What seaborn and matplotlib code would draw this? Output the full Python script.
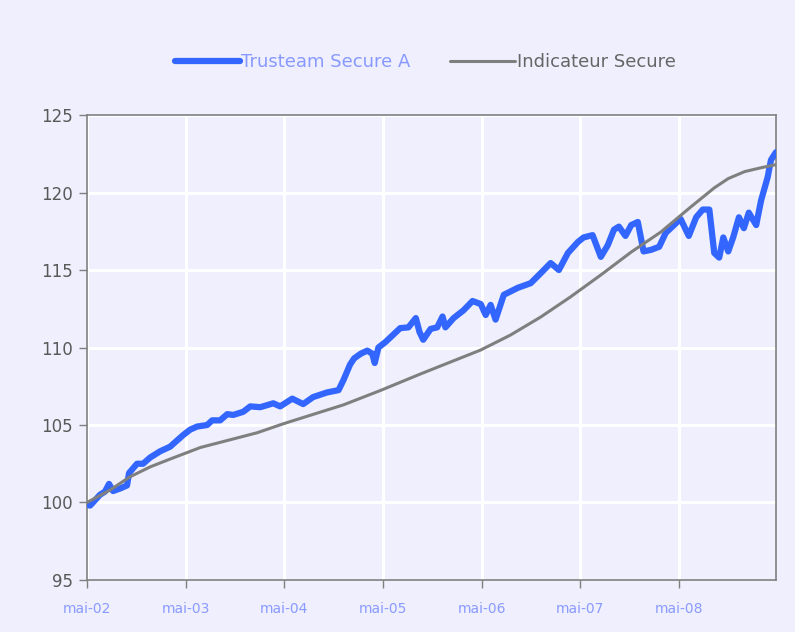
import pandas as pd
import numpy as np
import matplotlib
matplotlib.use("Agg")
import matplotlib.pyplot as plt
import seaborn as sns

# months elapsed since mai-02
fund_months = [0.0, 0.37, 0.73, 1.58, 2.19, 2.68, 3.17, 4.02, 4.87, 5.12,
               5.6, 6.09, 6.82, 7.68, 8.89, 10.11, 11.7, 12.55, 13.4, 14.62,
               15.23, 16.2, 17.06, 17.79, 19.0, 19.86, 21.08, 22.66, 23.5, 24.97,
               26.3, 27.5, 29.2, 30.6, 31.2, 32.0, 32.5, 33.3, 34.1, 34.7,
               35.0, 35.45, 36.3, 37.2, 38.1, 39.1, 40.0, 40.45, 40.9, 41.8,
               42.6, 43.25, 43.6, 44.6, 45.8, 46.9, 47.9, 48.5, 49.1, 49.7,
               50.7, 52.4, 53.97, 55.2, 56.4, 57.4, 58.5, 59.7, 60.4, 61.5,
               62.5, 63.35, 64.1, 64.7, 65.5, 66.2, 67.0, 67.7, 68.6, 69.6,
               70.4, 71.4, 72.2, 73.2, 74.1, 74.9, 75.7, 76.3, 76.9, 77.4,
               78.0, 78.6, 79.3, 79.9, 80.5, 81.4, 82.0, 82.8, 83.2, 83.8]
fund_values = [99.85, 99.8, 100.0, 100.5, 100.7, 101.2, 100.74, 100.9, 101.1, 101.9,
               102.2, 102.5, 102.5, 102.9, 103.3, 103.6, 104.35, 104.7, 104.9, 105.0,
               105.3, 105.3, 105.7, 105.65, 105.85, 106.2, 106.15, 106.4, 106.2, 106.7,
               106.35, 106.8, 107.1, 107.25, 107.9, 108.9, 109.3, 109.6, 109.8, 109.6,
               109.0, 110.0, 110.35, 110.8, 111.25, 111.3, 111.9, 111.0, 110.5, 111.2,
               111.3, 112.0, 111.3, 111.9, 112.4, 113.0, 112.8, 112.1, 112.75, 111.8,
               113.4, 113.85, 114.15, 114.8, 115.45, 115.0, 116.1, 116.8, 117.1, 117.25,
               115.85, 116.6, 117.6, 117.8, 117.2, 117.9, 118.1, 116.2, 116.3, 116.5,
               117.4, 117.9, 118.3, 117.2, 118.4, 118.9, 118.9, 116.1, 115.8, 117.1,
               116.2, 117.1, 118.4, 117.7, 118.7, 117.9, 119.5, 121.0, 122.1, 122.6]

index_months = [0.0, 2.8, 5.2, 7.7, 10.1, 13.8, 20.7, 24.0, 31.2, 35.8,
                40.6, 44.2, 47.9, 51.5, 55.2, 58.8, 62.5, 66.2, 69.8, 73.4,
                76.3, 78.0, 80.0, 82.0, 83.8]
index_values = [100.0, 100.8, 101.65, 102.3, 102.8, 103.55, 104.5, 105.1, 106.3, 107.25,
                108.3, 109.06, 109.84, 110.8, 111.97, 113.26, 114.68, 116.16, 117.45, 119.05,
                120.3, 120.9, 121.35, 121.6, 121.8]

tick_years = [2002, 2003, 2004, 2005, 2006, 2007, 2008]
tick_labels = ["mai-02", "mai-03", "mai-04", "mai-05", "mai-06", "mai-07", "mai-08"]

start = pd.Timestamp("2002-05-01")
fund = pd.DataFrame({"date": start + pd.to_timedelta(np.array(fund_months) * 30.44, unit="D"),
                     "value": fund_values})
index = pd.DataFrame({"date": start + pd.to_timedelta(np.array(index_months) * 30.44, unit="D"),
                      "value": index_values})

bg = "#EFEFFD"
sns.set_style("white", {"axes.facecolor": bg, "figure.facecolor": bg})
plt.rcParams["font.family"] = ["DejaVu Sans"]

fig = plt.figure(figsize=(7.95, 6.32), dpi=100)
ax = fig.add_axes([0.1094, 0.0823, 0.8666, 0.7357])

sns.lineplot(data=fund, x="date", y="value", ax=ax, color="#3366FF", linewidth=4.5,
             label="Trusteam Secure A", zorder=3)
sns.lineplot(data=index, x="date", y="value", ax=ax, color="#7F7F7F", linewidth=2.2,
             label="Indicateur Secure", zorder=4)

ax.set_ylim(95, 125)
ax.set_yticks(range(95, 126, 5))
ax.set_xlim(start, fund["date"].iloc[-1])
ax.set_xticks([pd.Timestamp(f"{y}-05-01") for y in tick_years])
ax.set_xticklabels(tick_labels)
ax.set_xlabel("")
ax.set_ylabel("")

ax.grid(True, color="white", linewidth=2.2)
ax.set_axisbelow(True)
for s in ax.spines.values():
    s.set_color("#808080")
    s.set_linewidth(1.2)

ax.tick_params(axis="y", length=6, width=1, color="#808080", labelsize=12,
               labelcolor="#595959", pad=4, left=True)
ax.tick_params(axis="x", length=6, width=1, color="#808080", labelsize=10,
               labelcolor="#8A9BFF", pad=10, bottom=True)

handles, labels = ax.get_legend_handles_labels()
ax.legend_.remove()
leg = fig.legend(handles, labels, loc="center", bbox_to_anchor=(0.535, 0.902), ncol=2,
                 frameon=False, fontsize=13, handlelength=3.6, handletextpad=0.1,
                 columnspacing=2.2)
leg.get_texts()[0].set_color("#8899FF")
leg.get_texts()[1].set_color("#666666")

fig.savefig("out.png", dpi=100, facecolor=bg)
